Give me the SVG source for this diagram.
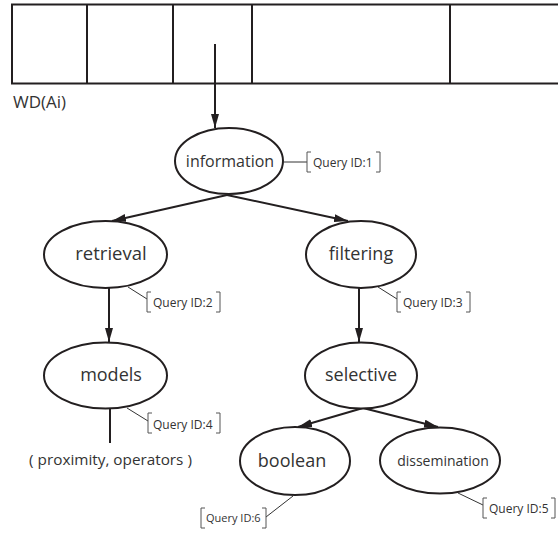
<svg xmlns="http://www.w3.org/2000/svg" width="558" height="536" viewBox="0 0 558 536">
  <style>
    .frame { fill: none; stroke: #231f20; stroke-width: 2; }
    .node { fill: #fff; stroke: #231f20; stroke-width: 2; }
    .label { font-family: "Open Sans", "Liberation Sans", sans-serif; fill: #333; text-anchor: middle; }
    .edge { fill: none; stroke: #231f20; stroke-width: 2; }
    .leader { fill: none; stroke: #333; stroke-width: 1; }
    .bracket { fill: none; stroke: #555; stroke-width: 1; }
    .qid { font-family: "Open Sans", "Liberation Sans", sans-serif; font-size: 12px; fill: #333; }
  </style>
  <defs>
    <marker id="arrow" markerWidth="14" markerHeight="8" refX="14" refY="4" orient="auto" markerUnits="userSpaceOnUse">
      <path d="M0,0 L14,4 L0,8 Z" fill="#231f20"/>
    </marker>
  </defs>

  <!-- word table WD(Ai) -->
  <g id="word-table">
    <path class="frame" d="M560,4.5 H12 V83.5 H560"/>
    <path class="frame" d="M87,4.5 V83.5 M173,4.5 V83.5 M252,4.5 V83.5 M450,4.5 V83.5"/>
    <text x="13" y="108" font-family="'Open Sans', 'Liberation Sans', sans-serif" font-size="17" fill="#333">WD(Ai)</text>
  </g>

  <!-- connectors -->
  <g id="connectors">
    <line class="edge" x1="215" y1="44" x2="215" y2="128" marker-end="url(#arrow)"/>
    <line class="edge" x1="227" y1="195" x2="112" y2="221" marker-end="url(#arrow)"/>
    <line class="edge" x1="227" y1="195" x2="348" y2="221" marker-end="url(#arrow)"/>
    <line class="edge" x1="109" y1="288" x2="109" y2="342" marker-end="url(#arrow)"/>
    <line class="edge" x1="359" y1="288" x2="359" y2="342" marker-end="url(#arrow)"/>
    <line class="edge" x1="363" y1="408" x2="298" y2="427" marker-end="url(#arrow)"/>
    <line class="edge" x1="363" y1="408" x2="438" y2="427" marker-end="url(#arrow)"/>
    <line class="edge" x1="110" y1="408" x2="110" y2="443"/>
  </g>

  <g id="information">
    <ellipse class="node" cx="229" cy="161" rx="54" ry="33"/>
    <text class="label" x="230" y="167" font-size="16">information</text>
  </g>
  <g id="retrieval">
    <ellipse class="node" cx="105.5" cy="254.5" rx="61.5" ry="33.5"/>
    <text class="label" x="111" y="260" font-size="18.5">retrieval</text>
  </g>
  <g id="filtering">
    <ellipse class="node" cx="361" cy="254.5" rx="55" ry="33.5"/>
    <text class="label" x="361" y="260" font-size="18">filtering</text>
  </g>
  <g id="models">
    <ellipse class="node" cx="105.5" cy="375.5" rx="61.5" ry="33"/>
    <text class="label" x="111" y="381" font-size="18">models</text>
  </g>
  <g id="selective">
    <ellipse class="node" cx="361" cy="375.5" rx="56" ry="33"/>
    <text class="label" x="361" y="381" font-size="18">selective</text>
  </g>
  <g id="boolean">
    <ellipse class="node" cx="295" cy="461" rx="55" ry="34"/>
    <text class="label" x="292" y="467" font-size="18">boolean</text>
  </g>
  <g id="dissemination">
    <ellipse class="node" cx="440" cy="460.5" rx="60" ry="33"/>
    <text class="label" x="443" y="466" font-size="14">dissemination</text>
  </g>

  <g id="operators-note">
    <text class="label" x="110.5" y="465" font-size="15.3">( proximity, operators )</text>
  </g>

  <!-- query id tags -->
  <g id="qid-1">
    <line class="leader" x1="283" y1="162" x2="307" y2="162"/>
    <path class="bracket" d="M311,152 H307 V172 H311 M376,152 H380 V172 H376"/>
    <text class="qid" x="313" y="167">Query ID:1</text>
  </g>
  <g id="qid-2">
    <line class="leader" x1="128" y1="287" x2="147" y2="299"/>
    <path class="bracket" d="M151,292 H147 V312 H151 M216,292 H220 V312 H216"/>
    <text class="qid" x="153" y="307">Query ID:2</text>
  </g>
  <g id="qid-3">
    <line class="leader" x1="378" y1="287" x2="397" y2="299"/>
    <path class="bracket" d="M401,292 H397 V312 H401 M466,292 H470 V312 H466"/>
    <text class="qid" x="403" y="307">Query ID:3</text>
  </g>
  <g id="qid-4">
    <line class="leader" x1="127" y1="408" x2="148" y2="421"/>
    <path class="bracket" d="M152,413 H148 V433 H152 M216,413 H220 V433 H216"/>
    <text class="qid" x="153" y="429">Query ID:4</text>
  </g>
  <g id="qid-5">
    <line class="leader" x1="458" y1="493" x2="483" y2="505"/>
    <path class="bracket" d="M487,498 H483 V518 H487 M551,498 H555 V518 H551"/>
    <text class="qid" x="489" y="513">Query ID:5</text>
  </g>
  <g id="qid-6">
    <line class="leader" x1="293" y1="496" x2="266" y2="517"/>
    <path class="bracket" d="M205,508 H201 V528 H205 M262,508 H266 V528 H262"/>
    <text class="qid" x="206" y="522" style="font-size:11px">Query ID:6</text>
  </g>
</svg>
